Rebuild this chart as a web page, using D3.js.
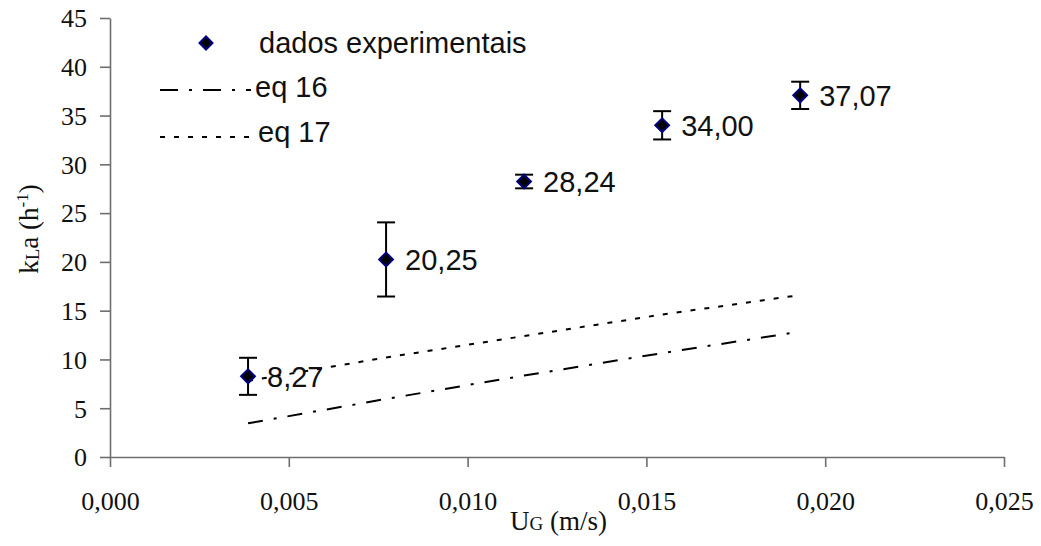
<!DOCTYPE html>
<html lang="pt">
<head>
    <meta charset="UTF-8"/>
    <title>kLa vs UG</title>
    <script src="https://cdn.jsdelivr.net/npm/d3@7"></script>
    <style>
        html, body {
            margin: 0;
            background: white;
        }
    </style>
</head>
<body>
<div id="chart"></div>
<script>
    // data
    const ug = [0.00386, 0.00772, 0.01158, 0.01544, 0.0193]
    const kla = [8.27, 20.25, 28.24, 34.00, 37.07]
    const klaErr = [1.9, 3.8, 0.7, 1.45, 1.4]
    const eq16 = [3.45, 5.95, 8.35, 10.65, 12.85]
    const eq17 = [7.8, 10.2, 12.4, 14.6, 16.6]
    const xTicks = [0, 0.005, 0.010, 0.015, 0.020, 0.025]
    const yTicks = [0, 5, 10, 15, 20, 25, 30, 35, 40, 45]

    const width = 1041, height = 546
    const margin = {left: 110, top: 18, right: 37, bottom: 89}

    const serif = "'Liberation Serif', 'Times New Roman', serif"
    const sans = "'Liberation Sans', Arial, sans-serif"

    const svg = d3.select("#chart").append("svg")
        .attr("width", width)
        .attr("height", height)

    const x = d3.scaleLinear().domain([0, 0.025]).range([margin.left, width - margin.right])
    const y = d3.scaleLinear().domain([0, 45]).range([height - margin.bottom, margin.top])

    const comma = f => v => d3.format(f)(v).replace(".", ",")

    const xAxis = svg.append("g")
        .attr("transform", `translate(0,${y(0)})`)
        .call(d3.axisBottom(x).tickValues(xTicks).tickFormat(comma(".3f")).tickSize(10).tickPadding(25).tickSizeOuter(0))
    const yAxis = svg.append("g")
        .attr("transform", `translate(${x(0)},0)`)
        .call(d3.axisLeft(y).tickValues(yTicks).tickFormat(d3.format("d")).tickSize(10).tickPadding(13).tickSizeOuter(0))

    for (const ax of [xAxis, yAxis]) {
        ax.attr("font-family", serif).attr("font-size", 26)
        ax.selectAll(".domain, .tick line").attr("stroke", "#6e6e6e").attr("stroke-width", 1.6)
        ax.selectAll(".tick text").attr("fill", "#111")
    }
    yAxis.selectAll(".tick text").attr("dy", "0.34em")

    // model curves
    const pts = arr => arr.map((v, i) => [x(ug[i]), y(v)])
    const line = d3.line()
    const dash16 = "15,11,3,11"
    const dash17 = "5,9"

    svg.append("path")
        .attr("d", line(pts(eq17)))
        .attr("fill", "none")
        .attr("stroke", "black")
        .attr("stroke-width", 2)
        .attr("stroke-dasharray", dash17)

    svg.append("path")
        .attr("d", line(pts(eq16)))
        .attr("fill", "none")
        .attr("stroke", "black")
        .attr("stroke-width", 2)
        .attr("stroke-dasharray", dash16)

    // error bars
    const capW = 9
    const err = svg.append("g").attr("stroke", "black").attr("stroke-width", 2)
    kla.forEach((v, i) => {
        const cx = x(ug[i])
        const top = y(v + klaErr[i]), bot = y(v - klaErr[i])
        err.append("line").attr("x1", cx).attr("x2", cx).attr("y1", top).attr("y2", bot)
        err.append("line").attr("x1", cx - capW).attr("x2", cx + capW).attr("y1", top).attr("y2", top)
        err.append("line").attr("x1", cx - capW).attr("x2", cx + capW).attr("y1", bot).attr("y2", bot)
    })

    const diamond = d3.symbol(d3.symbolSquare, 95)

    svg.append("g").selectAll("path")
        .data(kla)
        .join("path")
        .attr("d", diamond)
        .attr("transform", (d, i) => `translate(${x(ug[i])},${y(d)}) rotate(45)`)
        .attr("fill", "black")
        .attr("stroke", "#000080")
        .attr("stroke-width", 2)

    // value labels
    svg.append("g").selectAll("text")
        .data(kla)
        .join("text")
        .attr("x", (d, i) => x(ug[i]) + 19)
        .attr("y", d => y(d))
        .attr("dy", "0.36em")
        .attr("font-family", sans)
        .attr("font-size", 29)
        .attr("fill", "#111")
        .text(d => d3.format(".2f")(d).replace(".", ","))

    // legend
    const leg = svg.append("g")
        .attr("font-family", sans)
        .attr("font-size", 29)
        .attr("fill", "#111")
    leg.append("path")
        .attr("d", d3.symbol(d3.symbolSquare, 85))
        .attr("transform", "translate(206,43) rotate(45)")
        .attr("fill", "black")
        .attr("stroke", "#000080")
        .attr("stroke-width", 2)
    leg.append("text").attr("x", 259).attr("y", 53).text("dados experimentais")
    leg.append("line")
        .attr("x1", 160).attr("x2", 251).attr("y1", 90).attr("y2", 90)
        .attr("stroke", "black").attr("stroke-width", 2)
        .attr("stroke-dasharray", "18,11,3,11")
    leg.append("text").attr("x", 255).attr("y", 97).text("eq 16")
    leg.append("line")
        .attr("x1", 160).attr("x2", 250).attr("y1", 137).attr("y2", 137)
        .attr("stroke", "black").attr("stroke-width", 2)
        .attr("stroke-dasharray", dash17)
    leg.append("text").attr("x", 258).attr("y", 142).text("eq 17")

    // axis titles
    const xt = svg.append("text")
        .attr("x", 510).attr("y", 530)
        .attr("font-family", serif).attr("font-size", 27).attr("fill", "#111")
    xt.append("tspan").text("U")
    xt.append("tspan").attr("font-size", 19).text("G")
    xt.append("tspan").text(" (m/s)")

    const yt = svg.append("text")
        .attr("transform", "translate(38,229) rotate(-90)")
        .attr("text-anchor", "middle")
        .attr("font-family", serif).attr("font-size", 27).attr("fill", "#111")
    yt.append("tspan").text("k")
    yt.append("tspan").attr("font-size", 19).attr("dy", 1).text("L")
    yt.append("tspan").attr("dy", -1).text("a (h")
    yt.append("tspan").attr("font-size", 17).attr("dy", -10).text("-1")
    yt.append("tspan").attr("dy", 10).text(")")
</script>
</body>
</html>
